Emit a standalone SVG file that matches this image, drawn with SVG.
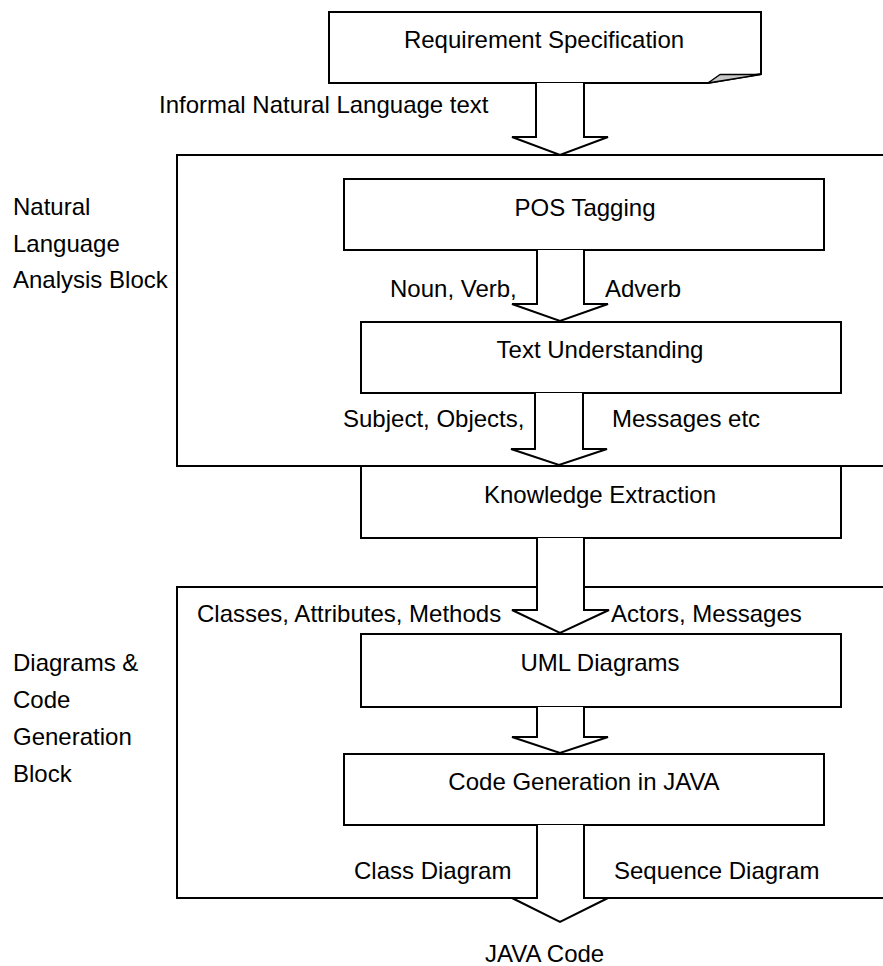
<svg xmlns="http://www.w3.org/2000/svg" width="883" height="966" viewBox="0 0 883 966">
<style>
.box{fill:#fff;stroke:#000;stroke-width:2}
.blk{fill:none;stroke:#000;stroke-width:2}
.arr{fill:#fff;stroke:#000;stroke-width:2;stroke-linejoin:miter}
text{font-family:"Liberation Sans",Arial,sans-serif;font-size:24px;fill:#000}
.c{text-anchor:middle}
</style>
<rect width="883" height="966" fill="#fff"/>
<g id="nla-block">
<path class="blk" d="M890,155 H177 V466 H890"/>
<text x="13" y="215">Natural</text>
<text x="13" y="252">Language</text>
<text x="13" y="288">Analysis Block</text>
</g>
<g id="dcg-block">
<path class="blk" d="M890,587 H177 V898 H890"/>
<text x="13" y="671">Diagrams &amp;</text>
<text x="13" y="708">Code</text>
<text x="13" y="745">Generation</text>
<text x="13" y="782">Block</text>
</g>
<g id="req-spec">
<path class="box" d="M329,12 H761 V74 L708,83 H329 Z"/>
<path d="M708,83 L720,74.5 H761 Z" fill="#c8c8c8" stroke="#000" stroke-width="1.5" stroke-linejoin="round"/>
<text class="c" x="544" y="48">Requirement Specification</text>
</g>
<g id="pos-tagging">
<rect class="box" x="344" y="179" width="480" height="71"/>
<text class="c" x="585" y="216">POS Tagging</text>
</g>
<g id="text-understanding">
<rect class="box" x="361" y="322" width="480" height="71"/>
<text class="c" x="600" y="358">Text Understanding</text>
</g>
<g id="knowledge-extraction">
<rect class="box" x="361" y="466" width="480" height="72"/>
<text class="c" x="600" y="503">Knowledge Extraction</text>
</g>
<g id="uml-diagrams">
<rect class="box" x="361" y="634" width="480" height="73"/>
<text class="c" x="600" y="671">UML Diagrams</text>
</g>
<g id="code-generation">
<rect class="box" x="344" y="754" width="480" height="71"/>
<text class="c" x="584" y="790">Code Generation in JAVA</text>
</g>
<g id="connectors">
<path class="arr" d="M536,83 V137 H512 L560,155 L608,137 H584 V83"/>
<path class="arr" d="M537,250 V304 H512 L560,321 L608,304 H584 V250"/>
<path class="arr" d="M535,393 V449 H511 L559,465 L607,449 H583 V393"/>
<path class="arr" d="M537,538 V610 H512 L560,633 L609,610 H584 V538"/>
<path class="arr" d="M537,707 V737 H512 L560,753 L608,737 H584 V707"/>
<path class="arr" d="M537,825 V898 H512 L560,922 L608,898 H584 V825"/>
<text x="159" y="113">Informal Natural Language text</text>
<text x="390" y="297">Noun, Verb,</text>
<text x="605" y="297">Adverb</text>
<text x="343" y="427">Subject, Objects,</text>
<text x="612" y="427">Messages etc</text>
<text x="197" y="622">Classes, Attributes, Methods</text>
<text x="611" y="622">Actors, Messages</text>
<text x="354" y="879">Class Diagram</text>
<text x="614" y="879">Sequence Diagram</text>
<text x="485" y="962">JAVA Code</text>
</g>
</svg>
